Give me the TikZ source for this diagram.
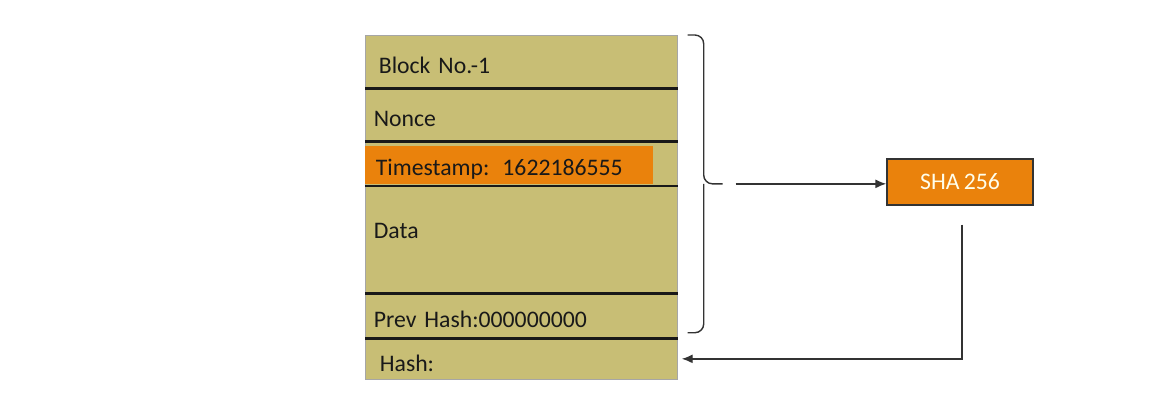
\documentclass[tikz,border=0pt]{standalone}
\usepackage{fontspec}
\setmainfont{Carlito}[WordSpace=0.8]
\usetikzlibrary{arrows.meta,shadows,calc}
\definecolor{kaki}{RGB}{200,190,117}
\definecolor{arancio}{RGB}{234,130,12}

\begin{document}
\begin{tikzpicture}[
    font=\fontsize{13.5}{16}\selectfont,
    riga/.style={minimum width=6.24cm, text width=5.9cm, align=left, inner xsep=0.17cm, text height=0.46cm, text depth=0cm, anchor=north west, text=black!90},
    separatore/.style={line width=1.6pt, black!90},
    graffa/.style={line width=0.8pt, black!80, rounded corners=5pt},
    freccia/.style={-{Latex[length=2.2mm,width=1.8mm]}, line width=0.8pt, black!80}
]
    \useasboundingbox (0,0) rectangle (23.48,-8.14);

    % Riquadro del blocco
    \node[draw=black!35, fill=kaki, minimum width=6.24cm, minimum height=6.88cm, anchor=north west, drop shadow={opacity=0.25, shadow xshift=0.6pt, shadow yshift=-0.6pt}] (blocco) at (7.3,-0.7) {};

    % Campi del blocco
    \node[riga, minimum height=1.06cm] (numero) at (7.3,-0.7) {\hspace*{0.1cm}Block No.-1};
    \node[riga, minimum height=1.06cm] (nonce) at (7.3,-1.76) {Nonce};
    \node[riga, fill=arancio, minimum width=5.76cm, text width=5.42cm, minimum height=0.76cm, text height=0.4cm] (tempo) at (7.3,-2.92) {\hspace*{0.04cm}Timestamp:\hspace{0.55em}1622186555};
    \node[riga, minimum height=2.14cm, text depth=0.52cm] (dati) at (7.3,-3.72) {Data};
    \node[riga, minimum height=0.9cm] (prev) at (7.3,-5.86) {Prev Hash:000000000};
    \node[riga, minimum height=0.82cm, text height=0.5cm] (hash) at (7.3,-6.76) {\hspace*{0.12cm}Hash:};

    % Linee di separazione
    \draw[separatore] (numero.south west) -- (numero.south east);
    \draw[separatore] (nonce.south west) -- (nonce.south east);
    \draw[separatore] (dati.north west) -- (dati.north east);
    \draw[separatore] (dati.south west) -- (dati.south east);
    \draw[separatore] (prev.south west) -- (prev.south east);

    % Graffa sui campi
    \coordinate (g1) at ([xshift=0.2cm]blocco.north east);
    \coordinate (g2) at ([xshift=0.2cm, yshift=0.12cm]prev.south east);
    \coordinate (gm) at ($(g1)!0.5!(g2) + (0.32,0)$);
    \draw[graffa] (g1) -| (gm) -- ++(0.38,0);
    \draw[graffa] (gm) |- (g2);
    \coordinate (punta) at ($(gm) + (0.64,0)$);

    % Funzione di hash
    \node[draw=black!80, line width=0.8pt, fill=arancio, text=white!92!yellow, minimum width=2.92cm, minimum height=0.92cm] (sha) at (19.2,-3.64) {SHA 256};

    % Frecce
    \draw[freccia] (punta) -- (punta -| sha.west);
    \coordinate (ritorno) at ([xshift=0.04cm, yshift=-0.38cm]sha.south);
    \draw[freccia] (ritorno) |- ([xshift=0.08cm]hash.east);
\end{tikzpicture}
\end{document}
